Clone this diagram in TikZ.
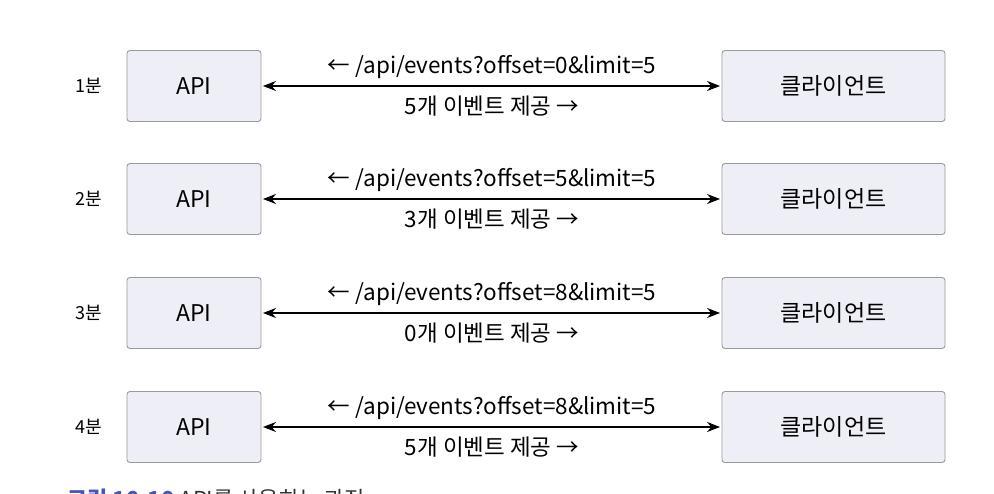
\documentclass[tikz,border=0pt]{standalone}
\usepackage{fontspec}
\setmainfont{Noto Sans CJK KR}
\usetikzlibrary{arrows.meta}
\definecolor{boxfill}{HTML}{EEEEF6}
\definecolor{boxdraw}{HTML}{9A9A9A}
\definecolor{capblue}{HTML}{4A55B8}
\definecolor{capgray}{HTML}{333333}
\begin{document}
\begin{tikzpicture}[x=1pt,y=-1pt,
  box/.style={draw=boxdraw,fill=boxfill,line width=0.9pt,rounded corners=3pt,
    minimum width=134pt,minimum height=71pt,inner sep=0pt,font=\fontsize{23}{26}\selectfont},
  cbox/.style={box,minimum width=223pt},
  rowlabel/.style={font=\fontsize{18}{21}\selectfont,inner sep=0pt},
  msg/.style={font=\fontsize{22.5}{26}\selectfont,inner sep=0pt},
  link/.style={line width=1.3pt,{Stealth[length=13pt,width=10pt]}-{Stealth[length=13pt,width=10pt]}}]
\useasboundingbox (0,0) rectangle (994,494);
\foreach \i/\y/\off/\n in {1/86/0/5,2/199/5/3,3/313/8/0,4/427/8/5}{
  \node[rowlabel] (t\i) at (89,\y) {{\i}분};
  \node[box] (a\i) at (194,\y) {API};
  \node[cbox] (c\i) at (833.5,\y) {클라이언트};
  \draw[link] ([xshift=1.5pt]a\i.east) coordinate (s\i) -- ([xshift=-1.5pt]c\i.west) coordinate (e\i);
  \node[msg] (q\i) at (492,\y-19) {← /api/events?offset={\off}\&limit=5};
  \node[msg] (r\i) at (492,\y+20) {{\n}개 이벤트 제공 →};
}
\node[anchor=north west,inner sep=0pt,font=\fontsize{22}{26}\selectfont] (cap) at (67,489)
  {\textcolor{capblue}{\bfseries 그림 10-10} \textcolor{capgray}{API를 사용하는 과정}};
\end{tikzpicture}
\end{document}
